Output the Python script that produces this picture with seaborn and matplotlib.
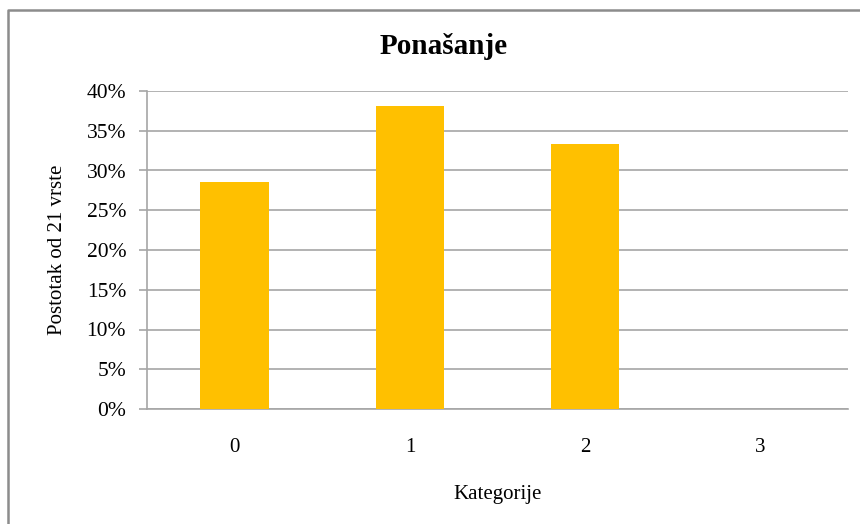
import matplotlib
matplotlib.use("Agg")
import matplotlib.pyplot as plt
import seaborn as sns
import pandas as pd
from matplotlib.ticker import PercentFormatter, MultipleLocator
from matplotlib.lines import Line2D

# 6, 8, 7 and 0 of 21 species
categories = ["0", "1", "2", "3"]
shares = [6 / 21, 8 / 21, 7 / 21, 0.0]

TITLE = "Ponašanje"
X_LABEL = "Kategorije"
Y_LABEL = "Postotak od 21 vrste"

sns.set_theme(style="white")
plt.rcParams["font.family"] = ["Liberation Serif", "DejaVu Serif"]
plt.rcParams["text.color"] = "black"
plt.rcParams["axes.labelcolor"] = "black"

df = pd.DataFrame({"kategorija": categories, "udio": shares})

fig = plt.figure(figsize=(8.6, 5.24), dpi=100)
ax = fig.add_axes([147 / 860, 1 - 409 / 524, 701 / 860, 318 / 524])

sns.barplot(data=df, x="kategorija", y="udio", color="#FFC000", width=0.39,
            saturation=1, linewidth=0, ax=ax, zorder=3)

ax.set_ylim(0, 0.4)
ax.yaxis.set_major_locator(MultipleLocator(0.05))
ax.yaxis.set_major_formatter(PercentFormatter(1.0, decimals=0))
ax.grid(axis="y", color="#A6A6A6", linewidth=1.2, zorder=0)
ax.set_axisbelow(True)

for side in ("top", "right"):
    ax.spines[side].set_visible(False)
for side in ("left", "bottom"):
    ax.spines[side].set_color("#A6A6A6")
    ax.spines[side].set_linewidth(1.2)

ax.tick_params(axis="y", left=True, length=6, width=1.2, color="#A6A6A6",
               pad=9, labelsize=15.5, labelcolor="black")
ax.tick_params(axis="x", bottom=False, pad=15, labelsize=15, labelcolor="black")

ax.set_xlabel(X_LABEL, fontsize=15, labelpad=20)
ax.set_ylabel(Y_LABEL, fontsize=15, labelpad=14)

fig.text(444 / 860, 1 - 47 / 524, TITLE, ha="center", va="center",
         fontsize=21, fontweight="bold", color="black")

# chart frame: only top and left edges are visible in the crop
fig.add_artist(Line2D([8 / 860, 8 / 860, 1.0], [0.0, 1 - 10 / 524, 1 - 10 / 524],
                      transform=fig.transFigure, color="#8C8C8C", linewidth=1.8))

fig.savefig("out.png", dpi=100)
